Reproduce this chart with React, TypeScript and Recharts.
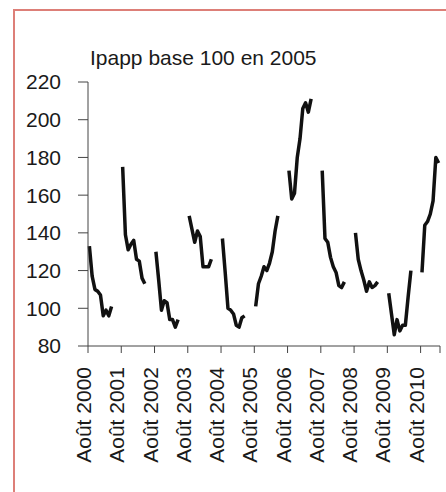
import React from "react";
import { LineChart, Line, XAxis, YAxis } from "recharts";

// Ipapp, one season per year, August to April (monthly)
const season2000 = [133, 117, 110, 109, 107, 96, 99, 96, 101];
const season2001 = [175, 139, 131, 134, 136, 126, 125, 116, 113];
const season2002 = [130, 115, 99, 104, 103, 94, 94, 90, 94];
const season2003 = [149, 142, 135, 141, 138, 122, 122, 122, 126];
const season2004 = [137, 119, 100, 99, 97, 91, 90, 95, 96];
const season2005 = [101, 113, 117, 122, 120, 124, 130, 141, 149];
const season2006 = [173, 158, 161, 180, 190, 206, 209, 204, 211];
const season2007 = [173, 137, 135, 127, 122, 119, 112, 111, 114];
const season2008 = [140, 126, 120, 115, 109, 114, 111, 112, 114];
const season2009 = [108, 97, 86, 94, 88, 91, 91, 106, 120];
const season2010 = [119, 144, 146, 150, 157, 180, 177];

const seasons = [
  season2000, season2001, season2002, season2003, season2004, season2005,
  season2006, season2007, season2008, season2009, season2010,
];

const yearLabels = [
  "Août 2000", "Août 2001", "Août 2002", "Août 2003", "Août 2004", "Août 2005",
  "Août 2006", "Août 2007", "Août 2008", "Août 2009", "Août 2010",
];
const yTicks = [80, 100, 120, 140, 160, 180, 200, 220];

const monthCount = 127; // Aug 2000 .. Feb 2011
const xTicks = [...yearLabels.map((_, i) => i * 12), monthCount];

// points sit in the middle of each month slot, gaps are null
const data = Array.from({ length: monthCount }, (_, m) => {
  const vals = seasons[Math.floor(m / 12)];
  const k = m % 12;
  return { t: m + 0.5, ipapp: vals && k < vals.length ? vals[k] : null };
});

const font = "Arial, 'Liberation Sans', sans-serif";

const MonthTick = (props: any) => {
  const { x, y, payload } = props;
  const idx = xTicks.indexOf(payload.value);
  const label = yearLabels[idx];
  if (!label) return null;
  return (
    <text
      x={x}
      y={y}
      dy={3}
      transform={`rotate(-90 ${x} ${y})`}
      textAnchor="end"
      fontSize={21}
      fontFamily={font}
      fill="#1a1a1a"
    >
      {label}
    </text>
  );
};

export default function App() {
  return (
    <div style={{ position: "absolute", left: 0, top: 0, width: 446, height: 492, overflow: "hidden", background: "#fff" }}>
      <div
        style={{
          position: "absolute",
          left: 13,
          top: 9,
          width: 500,
          height: 600,
          border: "2px solid #dd7f78",
        }}
      />
      <div
        style={{
          position: "absolute",
          left: 90,
          top: 47,
          fontSize: 21,
          lineHeight: "21px",
          fontFamily: font,
          color: "#1a1a1a",
          whiteSpace: "nowrap",
        }}
      >
        Ipapp base 100 en 2005
      </div>
      <div style={{ position: "absolute", left: 0, top: 0 }}>
        <LineChart width={446} height={492} data={data} margin={{ top: 82, right: 6, bottom: 0, left: 0 }}>
          <XAxis
            type="number"
            dataKey="t"
            domain={[0, monthCount]}
            ticks={xTicks}
            interval={0}
            height={146}
            tickSize={7}
            tickMargin={14}
            axisLine={{ stroke: "#444" }}
            tickLine={{ stroke: "#444" }}
            tick={<MonthTick />}
          />
          <YAxis
            type="number"
            domain={[80, 220]}
            ticks={yTicks}
            interval={0}
            width={88}
            tickSize={10}
            tickMargin={17}
            axisLine={{ stroke: "#444" }}
            tickLine={{ stroke: "#444" }}
            tick={{ fontSize: 21, fontFamily: font, fill: "#1a1a1a" }}
          />
          <Line
            type="linear"
            dataKey="ipapp"
            stroke="#111"
            strokeWidth={3.5}
            strokeLinejoin="round"
            dot={false}
            connectNulls={false}
            isAnimationActive={false}
          />
        </LineChart>
      </div>
    </div>
  );
}
